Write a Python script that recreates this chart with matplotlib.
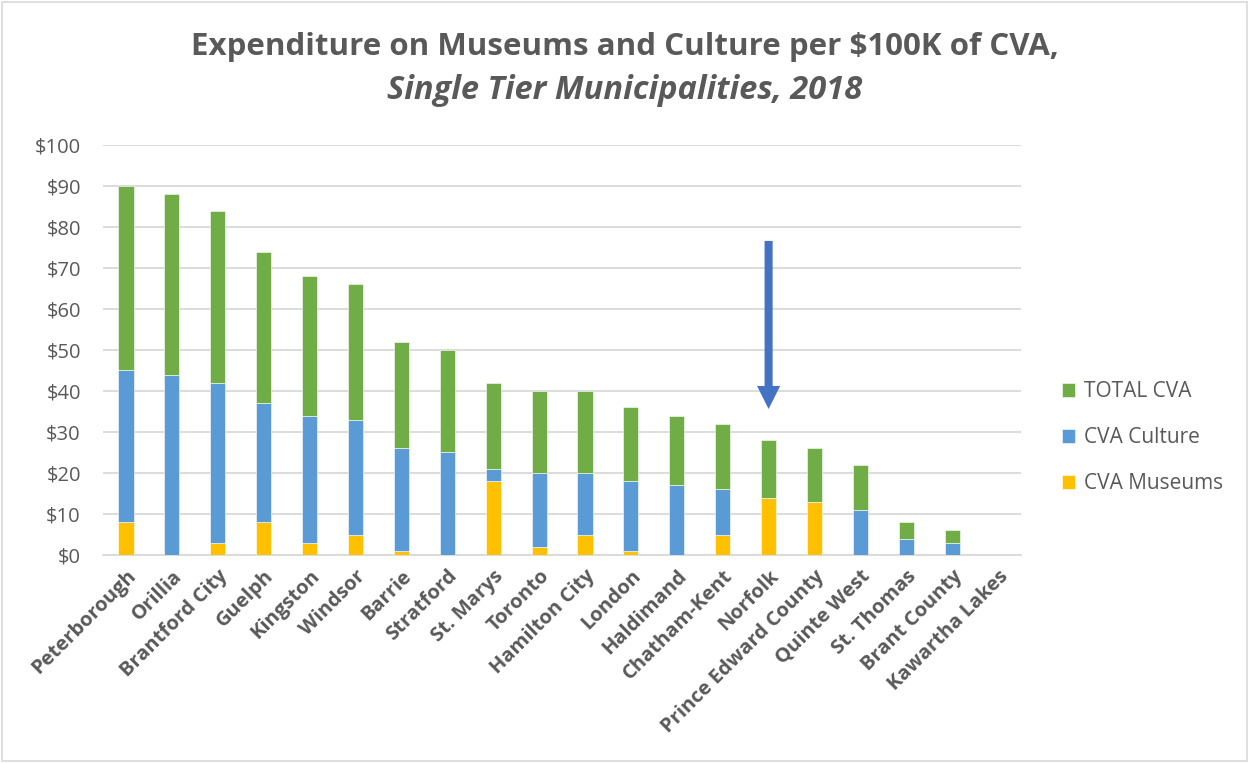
"""Expenditure on museums and culture per $100K of CVA, single tier municipalities."""
import numpy as np
import matplotlib.pyplot as plt
from matplotlib.patches import Rectangle, FancyArrowPatch

municipalities = ["Peterborough", "Orillia", "Brantford City", "Guelph", "Kingston",
                  "Windsor", "Barrie", "Stratford", "St. Marys", "Toronto",
                  "Hamilton City", "London", "Haldimand", "Chatham-Kent", "Norfolk",
                  "Prince Edward County", "Quinte West", "St. Thomas", "Brant County",
                  "Kawartha Lakes"]
cva_museums = [8, 0, 3, 8, 3, 5, 1, 0, 18, 2, 5, 1, 0, 5, 14, 13, 0, 0, 0, 0]
cva_culture = [37, 44, 39, 29, 31, 28, 25, 25, 3, 18, 15, 17, 17, 11, 0, 0, 11, 4, 3, 0]
total_cva = [45, 44, 42, 37, 34, 33, 26, 25, 21, 20, 20, 18, 17, 16, 14, 13, 11, 4, 3, 0]

highlight = "Norfolk"
arrow_top, arrow_tip = 76.6, 35.6

GREEN = "#70ad47"
BLUE = "#5b9bd5"
GOLD = "#ffc000"
TEXT = "#595959"


def main():
    plt.rcParams["font.family"] = ["Open Sans", "DejaVu Sans"]
    fig = plt.figure(figsize=(12.49, 7.63), dpi=100)
    fig.patches.append(Rectangle((0.002, 0.002), 0.996, 0.996, transform=fig.transFigure,
                                 fill=False, edgecolor="#d9d9d9", linewidth=1.2))
    ax = fig.add_axes([0.0825, 0.2726, 0.735, 0.5374])

    x = np.arange(len(municipalities))
    w = 0.33
    museums = np.array(cva_museums)
    culture = np.array(cva_culture)
    total = np.array(total_cva)
    ax.bar(x, museums, w, color=GOLD, edgecolor="white", linewidth=0.4,
           label="CVA Museums", zorder=3)
    ax.bar(x, culture, w, bottom=museums, color=BLUE, edgecolor="white", linewidth=0.4,
           label="CVA Culture", zorder=3)
    ax.bar(x, total, w, bottom=museums + culture, color=GREEN, edgecolor="white",
           linewidth=0.4, label="TOTAL CVA", zorder=3)

    # arrow pointing down at the highlighted municipality
    hx = municipalities.index(highlight)
    arrow = FancyArrowPatch((hx, arrow_top), (hx, arrow_tip),
                            arrowstyle="simple,head_length=1.66,head_width=1.66,tail_width=0.58",
                            mutation_scale=10, color="#4472c4", linewidth=0,
                            shrinkA=0, shrinkB=0, zorder=5)
    ax.add_patch(arrow)

    ax.set_xlim(-0.5, len(municipalities) - 0.5)
    ax.set_ylim(0, 100)
    ax.set_yticks(np.arange(0, 101, 10))
    ax.set_yticklabels([f"${v}" for v in range(0, 101, 10)], fontsize=14.5, color=TEXT)
    ax.set_xticks(x)
    ax.set_xticklabels(municipalities, rotation=45, ha="right", rotation_mode="anchor",
                       fontsize=14.5, fontweight="bold", color=TEXT)
    ax.tick_params(axis="both", length=0)
    ax.tick_params(axis="y", pad=16)
    ax.tick_params(axis="x", pad=8)
    ax.grid(axis="y", color="#d9d9d9", linewidth=1.3, zorder=0)
    for side in ["top", "right", "left"]:
        ax.spines[side].set_visible(False)
    ax.spines["bottom"].set_color("#d9d9d9")
    ax.spines["bottom"].set_linewidth(1.3)

    handles, labels = ax.get_legend_handles_labels()
    fig.legend(handles[::-1], labels[::-1], loc="center left",
               bbox_to_anchor=(0.835, 0.426), frameon=False, fontsize=15,
               labelcolor=TEXT, handlelength=0.65, handleheight=0.65,
               handletextpad=0.4, labelspacing=1.2)

    fig.text(0.5, 0.938, "Expenditure on Museums and Culture per $100K of CVA,",
             ha="center", va="center", fontsize=22.5, fontweight="bold", color=TEXT)
    fig.text(0.5, 0.881, "Single Tier Municipalities, 2018", ha="center", va="center",
             fontsize=23.5, fontweight="bold", fontstyle="italic", color=TEXT)

    fig.savefig("out.png", dpi=100)


if __name__ == "__main__":
    main()
